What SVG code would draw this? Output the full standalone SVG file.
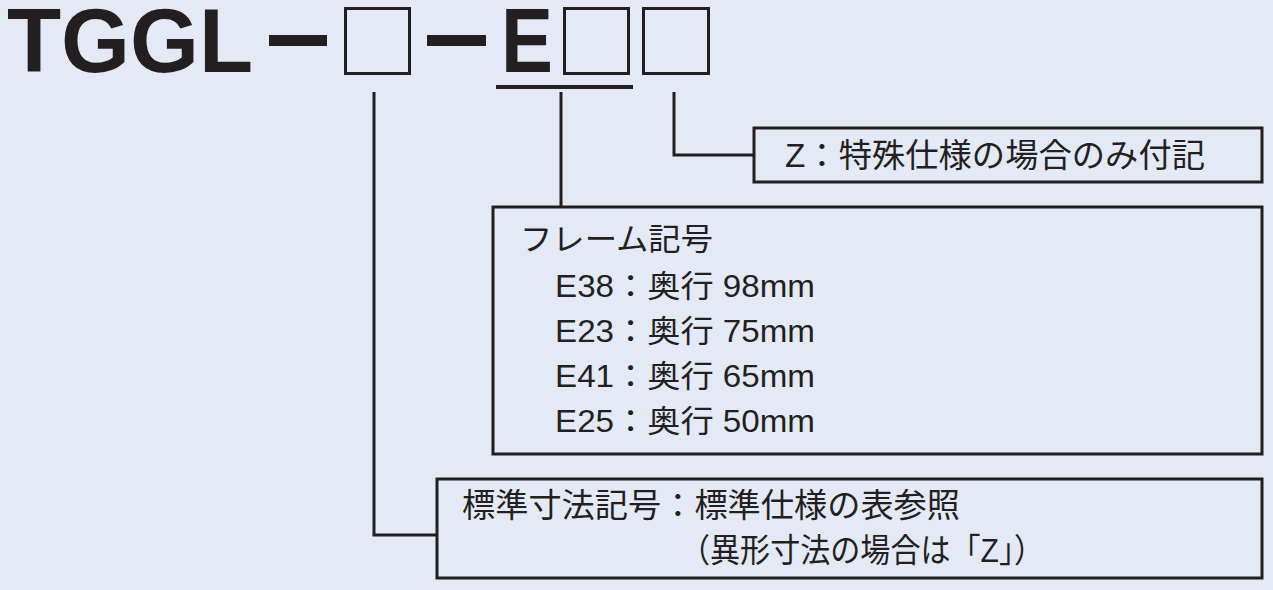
<svg xmlns="http://www.w3.org/2000/svg" width="1273" height="590" viewBox="0 0 1273 590">
<style>
.bg{fill:#E3EAF6}
.box{fill:none;stroke:#231F20;stroke-width:3}
.ln{fill:none;stroke:#231F20;stroke-width:3}
.sq{fill:none;stroke:#231F20;stroke-width:3}
.bar{fill:#231F20}
.t{font-family:"Liberation Sans","Noto Sans CJK JP",sans-serif;font-size:31px;fill:#231F20}
.tc{font-family:"Liberation Sans","Noto Sans CJK JP",sans-serif;font-size:33px;fill:#231F20}
.title{font-family:"Liberation Sans",Arial,sans-serif;font-weight:bold;font-size:91px;fill:#231F20}
</style>
<rect class="bg" x="0" y="0" width="1273" height="590"/>
<g id="title">
<text class="title" x="7" y="72" textLength="246" lengthAdjust="spacingAndGlyphs">TGGL</text>
<rect class="bar" x="269" y="35" width="58" height="11"/>
<rect class="sq" x="345.5" y="8.5" width="64" height="65"/>
<rect class="bar" x="427" y="35" width="59" height="11"/>
<text class="title" x="501" y="72" textLength="52" lengthAdjust="spacingAndGlyphs">E</text>
<rect class="sq" x="564.5" y="8.5" width="64" height="65"/>
<rect class="sq" x="643.5" y="8.5" width="65" height="65"/>
<rect class="bar" x="496" y="85" width="137" height="4"/>
</g>
<g id="connectors">
<polyline class="ln" points="374,92 374,535 437,535"/>
<line class="ln" x1="561" y1="92" x2="561" y2="207"/>
<polyline class="ln" points="674,92 674,155 754,155"/>
</g>
<g id="node-z">
<rect class="box" x="754" y="128" width="508" height="54"/>
<text class="tc" x="785" y="167" textLength="420" lengthAdjust="spacingAndGlyphs">Z：特殊仕様の場合のみ付記</text>
</g>
<g id="node-frame">
<rect class="box" x="493" y="207" width="769" height="247"/>
<text class="t" x="520" y="250" textLength="193" lengthAdjust="spacingAndGlyphs">フレーム記号</text>
<text class="t" x="555" y="297" textLength="260" lengthAdjust="spacingAndGlyphs">E38：奥行 98mm</text>
<text class="t" x="555" y="342" textLength="260" lengthAdjust="spacingAndGlyphs">E23：奥行 75mm</text>
<text class="t" x="555" y="387" textLength="260" lengthAdjust="spacingAndGlyphs">E41：奥行 65mm</text>
<text class="t" x="555" y="432" textLength="260" lengthAdjust="spacingAndGlyphs">E25：奥行 50mm</text>
</g>
<g id="node-std">
<rect class="box" x="437" y="479" width="825" height="99"/>
<text class="tc" x="462" y="517" textLength="498" lengthAdjust="spacingAndGlyphs">標準寸法記号：標準仕様の表参照</text>
<text class="tc" x="680" y="562" textLength="364" lengthAdjust="spacingAndGlyphs">（異形寸法の場合は「Z」）</text>
</g>
</svg>
